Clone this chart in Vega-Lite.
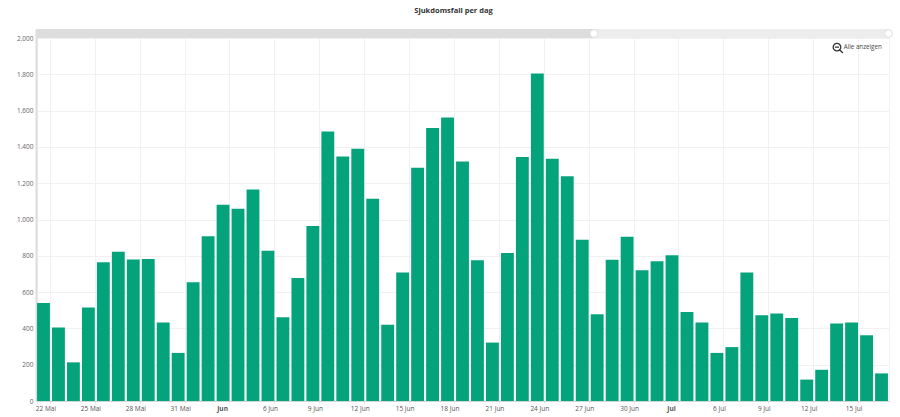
{"$schema":"https://vega.github.io/schema/vega-lite/v6.json","width":853,"height":372,"autosize":{"type":"none"},"padding":{"left":36,"top":29,"right":11,"bottom":16},"background":"white","title":{"text":"Sjukdomsfall per dag","font":"Open Sans","fontSize":7.5,"fontWeight":"bold","color":"#333333","anchor":"middle","dx":-9,"offset":13},"config":{"view":{"stroke":"#f3f0f2"},"font":"Open Sans","axisY":{"title":null,"labelFontSize":6.5,"labelColor":"#666666","labelPadding":3,"labelOverlap":false,"labelFlush":false,"tickSize":0,"domainColor":"#dddddd","domainWidth":2,"grid":true,"gridColor":"#f3f0f2","gridWidth":1}},"layer":[{"data":{"values":[{"tag":"22 Mai","fall":540},{"tag":"23 Mai","fall":405},{"tag":"24 Mai","fall":213},{"tag":"25 Mai","fall":515},{"tag":"26 Mai","fall":765},{"tag":"27 Mai","fall":822},{"tag":"28 Mai","fall":780},{"tag":"29 Mai","fall":782},{"tag":"30 Mai","fall":433},{"tag":"31 Mai","fall":265},{"tag":"1 Jun","fall":655},{"tag":"2 Jun","fall":908},{"tag":"3 Jun","fall":1082},{"tag":"4 Jun","fall":1060},{"tag":"5 Jun","fall":1165},{"tag":"6 Jun","fall":828},{"tag":"7 Jun","fall":462},{"tag":"8 Jun","fall":678},{"tag":"9 Jun","fall":965},{"tag":"10 Jun","fall":1485},{"tag":"11 Jun","fall":1348},{"tag":"12 Jun","fall":1390},{"tag":"13 Jun","fall":1115},{"tag":"14 Jun","fall":420},{"tag":"15 Jun","fall":708},{"tag":"16 Jun","fall":1285},{"tag":"17 Jun","fall":1505},{"tag":"18 Jun","fall":1562},{"tag":"19 Jun","fall":1320},{"tag":"20 Jun","fall":775},{"tag":"21 Jun","fall":322},{"tag":"22 Jun","fall":815},{"tag":"23 Jun","fall":1345},{"tag":"24 Jun","fall":1805},{"tag":"25 Jun","fall":1335},{"tag":"26 Jun","fall":1238},{"tag":"27 Jun","fall":888},{"tag":"28 Jun","fall":478},{"tag":"29 Jun","fall":778},{"tag":"30 Jun","fall":905},{"tag":"1 Jul","fall":720},{"tag":"2 Jul","fall":770},{"tag":"3 Jul","fall":803},{"tag":"4 Jul","fall":490},{"tag":"5 Jul","fall":432},{"tag":"6 Jul","fall":265},{"tag":"7 Jul","fall":297},{"tag":"8 Jul","fall":708},{"tag":"9 Jul","fall":472},{"tag":"10 Jul","fall":482},{"tag":"11 Jul","fall":457},{"tag":"12 Jul","fall":118},{"tag":"13 Jul","fall":172},{"tag":"14 Jul","fall":427},{"tag":"15 Jul","fall":432},{"tag":"16 Jul","fall":362},{"tag":"17 Jul","fall":152}]},"mark":{"type":"bar","color":"#05a37c"},"encoding":{"x":{"field":"tag","type":"nominal","sort":null,"scale":{"paddingInner":0.14,"paddingOuter":0.07},"axis":{"title":null,"values":["22 Mai","25 Mai","28 Mai","31 Mai","3 Jun","6 Jun","9 Jun","12 Jun","15 Jun","18 Jun","21 Jun","24 Jun","27 Jun","30 Jun","3 Jul","6 Jul","9 Jul","12 Jul","15 Jul"],"labelExpr":"datum.value=='3 Jun'?'Jun':datum.value=='3 Jul'?'Jul':datum.value","labelFontWeight":{"expr":"datum.value=='3 Jun'||datum.value=='3 Jul'?'bold':'normal'"},"labelAngle":0,"labelFontSize":6.5,"labelColor":"#555555","labelOffset":{"expr":"datum.value=='3 Jun'||datum.value=='3 Jul'?-1:2"},"labelPadding":2,"tickBand":"extent","tickSize":2,"tickColor":"#e2e2e2","domainColor":"#cfd8d6","grid":true,"gridColor":"#f3f0f2","gridWidth":1,"labelOverlap":false}},"y":{"field":"fall","type":"quantitative","scale":{"domain":[0,2050],"nice":false},"axis":{"values":[0,200,400,600,800,1000,1200,1400,1600,1800,2000],"labelExpr":"replace(format(datum.value,','),',','.')"}}}},{"data":{"values":[{"von":0,"bis":0.654,"unten":2000,"oben":2050,"teil":"Auswahl"},{"von":0.654,"bis":1,"unten":2000,"oben":2050,"teil":"Rest"}]},"mark":{"type":"rect"},"encoding":{"x":{"field":"von","type":"quantitative","scale":{"domain":[0,1],"nice":false,"zero":false},"axis":null},"x2":{"field":"bis"},"y":{"field":"unten","type":"quantitative","axis":{"values":[0,200,400,600,800,1000,1200,1400,1600,1800,2000],"labelExpr":"replace(format(datum.value,','),',','.')"}},"y2":{"field":"oben"},"color":{"field":"teil","type":"nominal","scale":{"domain":["Auswahl","Rest"],"range":["#dddddd","#eeeded"]},"legend":null}}},{"data":{"values":[{"pos":0.654,"wert":2025},{"pos":0.9995,"wert":2025}]},"mark":{"type":"point","filled":true,"fill":"white","stroke":"#e0e0e0","strokeWidth":1,"opacity":1,"size":60},"encoding":{"x":{"field":"pos","type":"quantitative","scale":{"domain":[0,1],"nice":false,"zero":false},"axis":null},"y":{"field":"wert","type":"quantitative","axis":{"values":[0,200,400,600,800,1000,1200,1400,1600,1800,2000],"labelExpr":"replace(format(datum.value,','),',','.')"}}}},{"data":{"values":[{"pos":0.939,"wert":1950}]},"mark":{"type":"point","shape":"M-0.55,0A0.55,0.55,0,1,1,0.55,0A0.55,0.55,0,1,1,-0.55,0M-0.3,0L0.3,0M0.38,0.38L0.85,0.85","filled":false,"stroke":"#333333","strokeWidth":1.3,"opacity":1,"size":190},"encoding":{"x":{"field":"pos","type":"quantitative","scale":{"domain":[0,1],"nice":false,"zero":false},"axis":null},"y":{"field":"wert","type":"quantitative","axis":{"values":[0,200,400,600,800,1000,1200,1400,1600,1800,2000],"labelExpr":"replace(format(datum.value,','),',','.')"}}}},{"data":{"values":[{"pos":0.947,"wert":1950,"text":"Alle anzeigen"}]},"mark":{"type":"text","align":"left","baseline":"middle","fontSize":6.2,"color":"#444444"},"encoding":{"x":{"field":"pos","type":"quantitative","scale":{"domain":[0,1],"nice":false,"zero":false},"axis":null},"y":{"field":"wert","type":"quantitative","axis":{"values":[0,200,400,600,800,1000,1200,1400,1600,1800,2000],"labelExpr":"replace(format(datum.value,','),',','.')"}},"text":{"field":"text"}}}],"resolve":{"scale":{"x":"independent"}}}
